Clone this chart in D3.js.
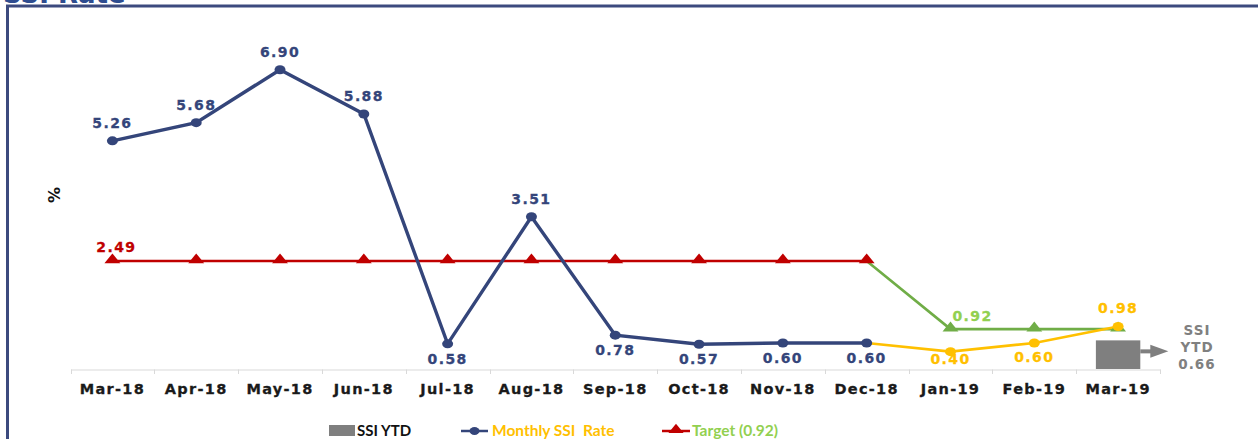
<!DOCTYPE html>
<html><head><meta charset="utf-8">
<script src="https://cdn.jsdelivr.net/npm/d3@7/dist/d3.min.js"></script>
<style>
html,body{margin:0;padding:0;background:#fff;}
svg{display:block;}
text{white-space:pre;}
</style></head>
<body>
<svg id="chart" width="1258" height="439"></svg>
<script>
const months = ["Mar-18","Apr-18","May-18","Jun-18","Jul-18","Aug-18","Sep-18","Oct-18","Nov-18","Dec-18","Jan-19","Feb-19","Mar-19"];
const monthlyNavy = [5.26,5.68,6.90,5.88,0.58,3.51,0.78,0.57,0.60,0.60];
const monthlyNavyLabelPos = ["above","above","above","above","below","above","below","below","below","below"];
const monthlyGold = [null,null,null,null,null,null,null,null,null,0.60,0.40,0.60,0.98];
const targetRed = [2.49,2.49,2.49,2.49,2.49,2.49,2.49,2.49,2.49,2.49];
const targetGreen = [null,null,null,null,null,null,null,null,null,2.49,0.92,0.92,0.92];
const ytdValue = 0.66;
const ytdMonth = "Mar-19";
const ytdLabel = ["SSI","YTD","0.66"];
const legendLabels = ["SSI YTD","Monthly SSI  Rate","Target (0.92)"];
const title = "SSI Rate";

const NAVY="#34457A", GOLD="#FFC000", RED="#C00000", GREEN="#70AD47", LGREEN="#92D050", GRAY="#7F7F7F";
const svg = d3.select("#chart");
const FONT = "'DejaVu Sans', Verdana, sans-serif";

// title (cut off at top) and frame
svg.append("text").attr("x",3).attr("y",3).attr("font-family",FONT).attr("font-weight","bold")
  .attr("font-size",26).attr("fill","#2E4C8F").text(title);
svg.append("rect").attr("x",7.5).attr("y",6).attr("width",1260).attr("height",450)
  .attr("fill","none").attr("stroke","#3C4A7E").attr("stroke-width",3);

const x = d3.scaleBand().domain(months).range([70.5,1160]).paddingInner(0).paddingOuter(0);
const y = d3.scaleLinear().domain([0,8]).range([369,22]);
const cx = m => x(m)+x.bandwidth()/2;

// x axis
const xAxis = d3.axisBottom(x).tickSize(0).tickPadding(14);
const gx = svg.append("g").attr("transform","translate(0,369.5)").call(xAxis);
gx.select(".domain").attr("stroke","#D9D9D9").attr("stroke-width",1.2);
gx.selectAll("text").attr("font-family",FONT).attr("font-weight","bold").attr("font-size",14.5)
  .attr("fill","#1a1a1a").attr("letter-spacing","1.3px").attr("stroke","#1a1a1a").attr("stroke-width",0.3);
// separator ticks at band boundaries
const bounds = months.map(m=>x(m)).concat([x(months[months.length-1])+x.bandwidth()]);
svg.append("g").selectAll("line").data(bounds).join("line")
  .attr("x1",d=>Math.round(d)+0.5).attr("x2",d=>Math.round(d)+0.5).attr("y1",369.5).attr("y2",374)
  .attr("stroke","#D9D9D9").attr("stroke-width",1);

// y label
svg.append("text").attr("transform","translate(60,195) rotate(-90)").attr("text-anchor","middle")
  .attr("font-family",FONT).attr("font-weight","bold").attr("font-size",16).attr("fill","#111").text("%");

// SSI YTD bar
const bw = x.bandwidth()*0.53;
svg.append("rect").attr("x",cx(ytdMonth)-bw/2).attr("y",y(ytdValue)).attr("width",bw)
  .attr("height",y(0)-y(ytdValue)).attr("fill",GRAY);
// arrow
const ax0 = cx(ytdMonth)+bw/2, ay = y(ytdValue)+11;
svg.append("line").attr("x1",ax0).attr("x2",ax0+12).attr("y1",ay).attr("y2",ay).attr("stroke",GRAY).attr("stroke-width",4);
svg.append("path").attr("d",`M${ax0+10},${ay-6.5}L${ax0+28},${ay}L${ax0+10},${ay+6.5}Z`).attr("fill",GRAY);
svg.append("g").selectAll("text").data(ytdLabel).join("text")
  .attr("x",1197).attr("y",(d,i)=>335+i*17).attr("text-anchor","middle")
  .attr("font-family",FONT).attr("font-weight","bold").attr("font-size",13.5).attr("fill","#808080")
  .attr("letter-spacing","1px").text(d=>d);

const line = d3.line().defined(d=>d.v!=null).x(d=>cx(d.m)).y(d=>y(d.v));
const toPts = arr => arr.map((v,i)=>({m:months[i],v:v}));

// target lines
svg.append("path").datum(toPts(targetGreen)).attr("d",line).attr("fill","none").attr("stroke",GREEN).attr("stroke-width",2.6);
svg.append("path").datum(toPts(targetRed)).attr("d",line).attr("fill","none").attr("stroke",RED).attr("stroke-width",2.4);
// monthly lines
svg.append("path").datum(toPts(monthlyGold)).attr("d",line).attr("fill","none").attr("stroke",GOLD).attr("stroke-width",2.6);
svg.append("path").datum(toPts(monthlyNavy)).attr("d",line).attr("fill","none").attr("stroke",NAVY).attr("stroke-width",3.4);

const tri = d3.symbol().type(d3.symbolTriangle).size(70);
function triangles(arr,color,skipFirst){
  svg.append("g").selectAll("path").data(toPts(arr).filter((d,i)=>d.v!=null && !(skipFirst && i===arr.findIndex(v=>v!=null))))
    .join("path").attr("d",tri).attr("fill",color)
    .attr("transform",d=>`translate(${cx(d.m)},${y(d.v)-1}) scale(1.25,0.9)`);
}
function dots(arr,color,skipFirst){
  svg.append("g").selectAll("ellipse").data(toPts(arr).filter((d,i)=>d.v!=null && !(skipFirst && i===arr.findIndex(v=>v!=null))))
    .join("ellipse").attr("cx",d=>cx(d.m)).attr("cy",d=>y(d.v)).attr("rx",5.5).attr("ry",4.5).attr("fill",color);
}
triangles(targetRed,RED,false);
triangles(targetGreen,GREEN,true);
dots(monthlyGold,GOLD,true);
dots(monthlyNavy,NAVY,false);

// labels
function label(xp,yp,txt,color){
  svg.append("text").attr("x",xp).attr("y",yp).attr("text-anchor","middle")
    .attr("font-family",FONT).attr("font-weight","bold").attr("font-size",14)
    .attr("letter-spacing","1.4px").attr("fill",color).attr("stroke",color).attr("stroke-width",0.3).text(txt);
}
monthlyNavy.forEach((v,i)=>{
  const above = monthlyNavyLabelPos[i]==="above";
  label(cx(months[i]), above ? y(v)-13 : y(v)+20, v.toFixed(2), NAVY);
});
monthlyGold.forEach((v,i)=>{
  if(v==null || i===9) return;
  const above = v>=0.9;
  label(cx(months[i]), above ? y(v)-13 : y(v)+ (v<0.5?12:19), v.toFixed(2), GOLD);
});
label(cx(months[0])+4, y(targetRed[0])-9, targetRed[0].toFixed(2), RED);
label(cx(months[10])+22, y(targetGreen[10])-8, targetGreen[10].toFixed(2), LGREEN);

// legend
const LF = "Lato, 'Open Sans', sans-serif";
const lg = svg.append("g");
lg.append("rect").attr("x",329).attr("y",425).attr("width",26).attr("height",11).attr("fill",GRAY);
lg.append("text").attr("x",357).attr("y",435.5).attr("font-family",LF).attr("font-weight","bold").attr("font-size",15).attr("fill","#111").text(legendLabels[0]);
lg.append("line").attr("x1",461).attr("x2",488).attr("y1",431).attr("y2",431).attr("stroke",NAVY).attr("stroke-width",2.5);
lg.append("ellipse").attr("cx",474.5).attr("cy",431).attr("rx",5).attr("ry",4).attr("fill",NAVY);
lg.append("text").attr("x",492).attr("y",435.5).attr("font-family",LF).attr("font-weight","bold").attr("font-size",15.5).attr("fill",GOLD).text(legendLabels[1]);
lg.append("line").attr("x1",662).attr("x2",690).attr("y1",431).attr("y2",431).attr("stroke",RED).attr("stroke-width",2.5);
lg.append("path").attr("d",tri).attr("fill",RED).attr("transform","translate(676,430) scale(1.2,0.85)");
lg.append("text").attr("x",692).attr("y",435.5).attr("font-family",LF).attr("font-weight","bold").attr("font-size",15.5).attr("fill",LGREEN).text(legendLabels[2]);
</script>
</body></html>
